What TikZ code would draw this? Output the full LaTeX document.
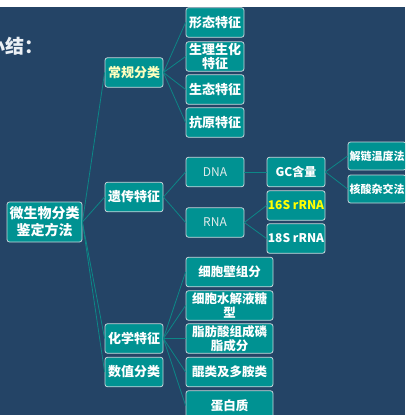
\documentclass[tikz,border=0pt]{standalone}
\usepackage{fontspec}
\newfontfamily\cjk{Noto Sans CJK SC}
\definecolor{bgnavy}{RGB}{36,68,102}
\definecolor{boxfill}{RGB}{0,146,146}
\definecolor{boxborder}{RGB}{200,215,220}
\definecolor{linkteal}{RGB}{12,135,135}
\definecolor{paleyellow}{RGB}{255,255,190}
\definecolor{brightyellow}{RGB}{255,255,0}
\tikzset{
  box/.style={draw=boxborder, line width=0.8pt, fill=boxfill, rounded corners=2.5pt,
    minimum width=58pt, minimum height=29.5pt, inner sep=1pt, align=center, text=white,
    font=\cjk\bfseries\fontsize{13}{15}\selectfont},
  widebox/.style={box, minimum width=87pt, font=\cjk\bfseries\fontsize{12.5}{15}\selectfont},
  smallbox/.style={box, minimum height=28pt, font=\cjk\bfseries\fontsize{11}{13}\selectfont},
  plainbox/.style={box, font=\cjk\fontsize{12}{14}\selectfont, text={rgb,255:red,225;green,235;blue,235}},
  link/.style={draw=linkteal, line width=0.8pt}
}
\begin{document}
\begin{tikzpicture}[x=1pt,y=-1pt]
\useasboundingbox (0,0) rectangle (405,415);
\clip (0,0) rectangle (405,415);
\fill[white] (0,0) rectangle (405,7);
\fill[bgnavy] (0,7) rectangle (405,415);
\node[anchor=west, text={rgb,255:red,235;green,240;blue,245}, font=\cjk\bfseries\fontsize{19}{22}\selectfont, inner sep=0pt] (title) at (-14,46) {小结：};
% level 0
\node[box, minimum width=75pt, minimum height=40pt, font=\cjk\bfseries\fontsize{14}{17}\selectfont] (root) at (44.5,222) {微生物分类\\鉴定方法};
% level 1
\node[box, text=paleyellow] (cg) at (134,72.5) {常规分类};
\node[box] (yc) at (134,197) {遗传特征};
\node[box] (hx) at (134,338.5) {化学特征};
\node[box] (sz) at (134,372) {数值分类};
% children of 常规分类
\node[box] (xt) at (215,22.5) {形态特征};
\node[box, font=\cjk\bfseries\fontsize{13}{14.5}\selectfont] (sl) at (215,56.5) {生理生化\\特征};
\node[box] (st) at (215,89.5) {生态特征};
\node[box] (ky) at (215,122.5) {抗原特征};
% genetic
\node[plainbox] (dna) at (215,172) {DNA};
\node[plainbox] (rna) at (215,222.5) {RNA};
\node[box, font=\cjk\bfseries\fontsize{12}{14}\selectfont] (gc) at (296,172) {GC含量};
\node[box, text=brightyellow, font=\cjk\bfseries\fontsize{12}{14}\selectfont] (s16) at (296,205.5) {16S rRNA};
\node[box, font=\cjk\bfseries\fontsize{12}{14}\selectfont] (s18) at (296,238.5) {18S rRNA};
\node[smallbox] (jl) at (377,156) {解链温度法};
\node[smallbox] (hs) at (377,189) {核酸杂交法};
% chemical
\node[widebox] (xbb) at (229.5,272) {细胞壁组分};
\node[widebox, font=\cjk\bfseries\fontsize{12.5}{14}\selectfont] (sjy) at (229.5,305.5) {细胞水解液糖\\型};
\node[widebox, font=\cjk\bfseries\fontsize{12.5}{14}\selectfont] (zfs) at (229.5,338.5) {脂肪酸组成磷\\脂成分};
\node[widebox] (kl) at (229.5,372) {醌类及多胺类};
\node[widebox] (dbz) at (229.5,405.5) {蛋白质};
% connectors
\foreach \c in {cg,yc,hx,sz} \draw[link] (root.east) -- (\c.west);
\foreach \c in {xt,sl,st,ky} \draw[link] (cg.east) -- (\c.west);
\foreach \c in {dna,rna} \draw[link] (yc.east) -- (\c.west);
\draw[link] (dna.east) -- (gc.west);
\foreach \c in {jl,hs} \draw[link] (gc.east) -- (\c.west);
\foreach \c in {s16,s18} \draw[link] (rna.east) -- (\c.west);
\foreach \c in {xbb,sjy,zfs,kl,dbz} \draw[link] (hx.east) -- (\c.west);
\end{tikzpicture}
\end{document}
